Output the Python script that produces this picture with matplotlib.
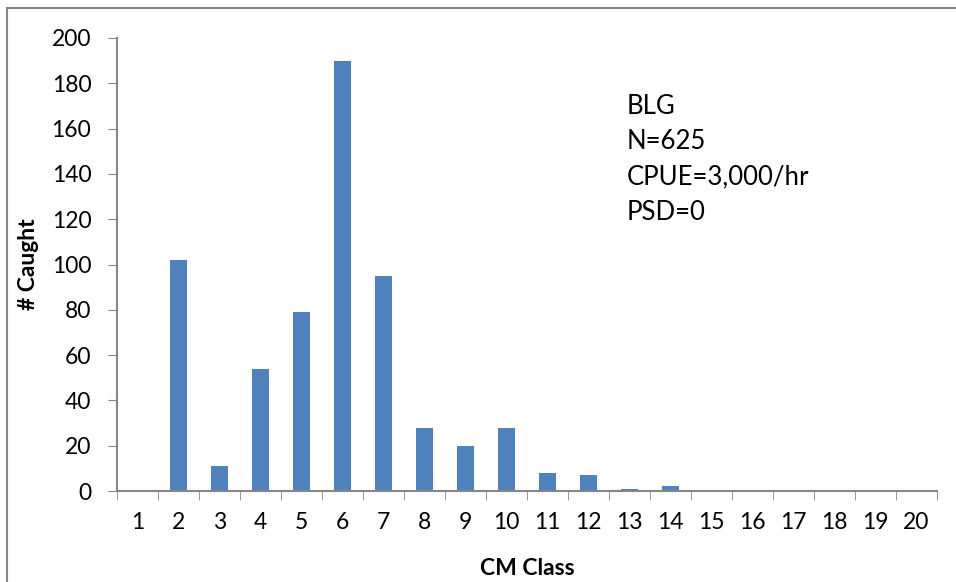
import matplotlib
matplotlib.use('Agg')
import matplotlib.pyplot as plt
from matplotlib.patches import Rectangle

# CM class length-frequency for BLG
cm_class = list(range(1, 21))
caught = [0, 102, 11, 54, 79, 190, 95, 28, 20, 28, 8, 7, 1, 2, 0, 0, 0, 0, 0, 0]
info_lines = ['BLG', 'N=625', 'CPUE=3,000/hr', 'PSD=0']

plt.rcParams['font.family'] = ['Lato', 'DejaVu Sans']

fig = plt.figure(figsize=(9.56, 5.82), dpi=100)
ax = fig.add_axes([117 / 956, 1 - 491 / 582, 820 / 956, 453 / 582])

ax.bar(cm_class, caught, width=0.4, color='#4F81BD')

ax.set_xlim(0.5, 20.5)
ax.set_ylim(0, 200)
ax.set_yticks(range(0, 201, 20))
ax.set_xticks(cm_class)
ax.set_xticks([c + 0.5 for c in range(0, 21)], minor=True)
ax.tick_params(axis='x', which='major', length=0, pad=15, labelsize=16.5)
ax.tick_params(axis='x', which='minor', length=6.5, color='#868686')
ax.tick_params(axis='y', length=6.5, color='#868686', labelsize=16.5, pad=12)

for side in ['top', 'right']:
    ax.spines[side].set_visible(False)
for side in ['left', 'bottom']:
    ax.spines[side].set_color('#868686')
    ax.spines[side].set_linewidth(1.5)

ax.set_xlabel('CM Class', fontsize=16.5, fontweight='bold', labelpad=18)
ax.set_ylabel('# Caught', fontsize=16.5, fontweight='bold', labelpad=9)

for i, line in enumerate(info_lines):
    ax.text(627 / 956, 1 - (106 + i * 35.5) / 582, line, transform=fig.transFigure,
            fontsize=18.5, va='center', ha='left')

# chart-area border
fig.patches.append(Rectangle((7 / 956, -0.1), 1.1, 1 - 8 / 582 + 0.1,
                             transform=fig.transFigure, fill=False,
                             edgecolor='#868686', linewidth=1.5))

fig.savefig('out.png', dpi=100)
